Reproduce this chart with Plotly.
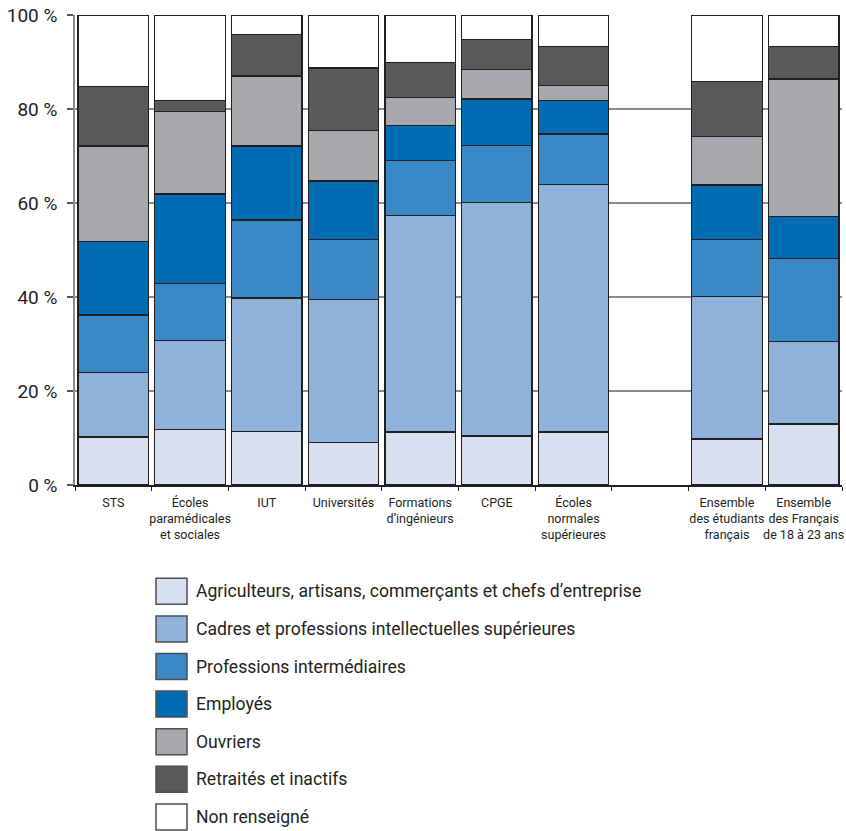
import plotly.graph_objects as go

categories = [
    "STS",
    "Écoles<br>paramédicales<br>et sociales",
    "IUT",
    "Universités",
    "Formations<br>d’ingénieurs",
    "CPGE",
    "Écoles<br>normales<br>supérieures",
    " ",
    "Ensemble<br>des étudiants<br>français",
    "Ensemble<br>des Français<br>de 18 à 23 ans",
]

series_names = [
    "Agriculteurs, artisans, commerçants et chefs d’entreprise",
    "Cadres et professions intellectuelles supérieures",
    "Professions intermédiaires",
    "Employés",
    "Ouvriers",
    "Retraités et inactifs",
    "Non renseigné",
]

agriculteurs = [10.2, 11.8, 11.4, 9.1, 11.3, 10.4, 11.3, None, 9.8, 13.0]
cadres = [13.8, 19.0, 28.4, 30.3, 46.0, 49.7, 52.6, None, 30.3, 17.5]
prof_inter = [12.2, 12.1, 16.6, 12.9, 11.8, 12.1, 10.8, None, 12.1, 17.7]
employes = [15.6, 19.0, 15.7, 12.4, 7.4, 9.9, 7.1, None, 11.6, 9.0]
ouvriers = [20.3, 17.6, 14.9, 10.8, 5.9, 6.3, 3.2, None, 10.4, 29.2]
retraites = [12.7, 2.3, 8.9, 13.2, 7.5, 6.4, 8.3, None, 11.6, 6.9]
non_renseigne = [15.2, 18.2, 4.1, 11.3, 10.1, 5.2, 6.7, None, 14.2, 6.7]

series_values = [agriculteurs, cadres, prof_inter, employes, ouvriers, retraites, non_renseigne]
colors = ["#d7dff1", "#8fb1da", "#3a88c5", "#006cb4", "#a7a8ab", "#58595b", "#ffffff"]

y_tickvals = [0, 20, 40, 60, 80, 100]
y_ticktext = ["0 %", "20 %", "40 %", "60 %", "80 %", "100 %"]

TEXT = "#231f20"
W, H = 846, 831
L, R, T, B = 75, 4, 15, 346
PW, PH = W - L - R, H - T - B


def px2x(px):
    return (px - L) / PW


def py2y(py):
    return (H - B - py) / PH


fig = go.Figure()
for name, vals, col in zip(series_names, series_values, colors):
    fig.add_trace(go.Bar(
        x=categories, y=vals, name=name,
        marker=dict(color=col, line=dict(color=TEXT, width=1.3)),
        showlegend=False,
    ))

# manual legend
shapes = []
annotations = []
row0, step = 591.3, 37.6
for i, (name, col) in enumerate(zip(series_names, colors)):
    cy = row0 + i * step
    shapes.append(dict(
        type="rect", xref="paper", yref="paper",
        x0=px2x(156), x1=px2x(187), y0=py2y(cy - 13), y1=py2y(cy + 13),
        fillcolor=col, line=dict(color="#4d4d4f", width=1.5),
    ))
    annotations.append(dict(
        xref="paper", yref="paper", x=px2x(194), y=py2y(cy),
        xanchor="left", yanchor="middle", text=name, showarrow=False,
        font=dict(family="Roboto, sans-serif", size=17.6, color=TEXT),
    ))

fig.update_layout(
    template="none",
    width=W, height=H,
    margin=dict(l=L, r=R, t=T, b=B, pad=0),
    paper_bgcolor="white", plot_bgcolor="white",
    barmode="stack", bargap=0.08,
    shapes=shapes, annotations=annotations,
    showlegend=False,
)
fig.update_xaxes(
    categoryorder="array", categoryarray=categories,
    automargin=False, tickangle=0,
    showline=True, linecolor=TEXT, linewidth=1.5,
    ticks="outside", tickson="boundaries", ticklen=4, tickcolor=TEXT, tickwidth=1,
    ticklabelstandoff=5,
    tickfont=dict(family="Roboto, sans-serif", size=12.5, color=TEXT),
    showgrid=False, fixedrange=True,
)
fig.update_yaxes(
    range=[0, 100], tickvals=y_tickvals, ticktext=y_ticktext,
    automargin=False,
    showline=True, linecolor="#8c8c8c", linewidth=1.5,
    ticks="outside", ticklen=6, tickcolor="#555555", tickwidth=1.5,
    ticklabelstandoff=6,
    tickfont=dict(family="Roboto, sans-serif", size=19, color=TEXT),
    showgrid=True, gridcolor="#8c8c8c", gridwidth=1.5,
    zeroline=False, fixedrange=True,
)

fig.write_html("out.html")
